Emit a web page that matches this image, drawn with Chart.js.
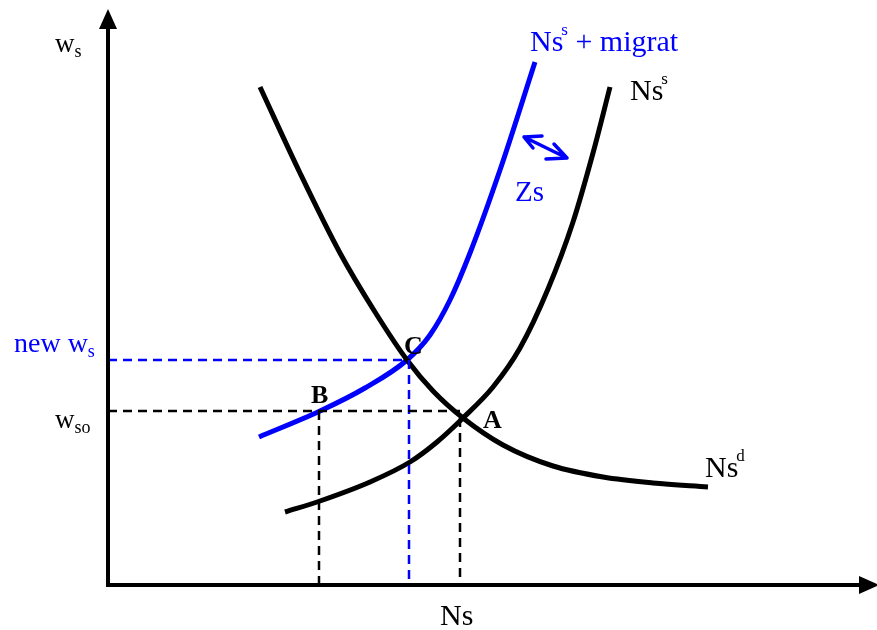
<!DOCTYPE html>
<html>
<head>
<meta charset="utf-8">
<script src="https://cdn.jsdelivr.net/npm/chart.js@4.4.1/dist/chart.umd.min.js"></script>
<style>
  body { margin: 0; background: #fff; }
</style>
</head>
<body>
<canvas id="grafico" width="877" height="630"></canvas>
<script>
// curvas (unidades del diagrama: origen en el cruce de los ejes)
const demandaX = [152, 192, 232, 267, 299, 325, 355, 395, 445, 495, 545, 600];
const demandaY = [498, 412, 332, 273, 225, 194, 167, 140, 119, 108, 102, 98];

const ofertaX = [177, 212, 262, 302, 329, 355, 385, 412, 440, 465, 485, 502];
const ofertaY = [73, 84, 103, 123, 143, 167, 198, 237, 296, 363, 432, 498];

const migratX = [151, 212, 257, 299, 322, 342, 362, 392, 427];
const migratY = [148, 174, 197, 225, 250, 285, 332, 415, 523];

// equilibrios y salario inicial
const puntoA = { x: 352, y: 167 };
const puntoB = { x: 211, y: 174 };
const puntoC = { x: 299, y: 225 };

const xMax = 762;
const yMax = 573;

const toPts = (xs, ys) => xs.map((x, i) => ({ x: x, y: ys[i] }));

const serif = '"Liberation Serif", "Times New Roman", serif';
const azul = '#0000ff';

// textos con sub/superindice
const etiquetas = [
  { x: -53, y: 533, t: 'w', sub: 's', c: '#000', s: 27 },
  { x: 422, y: 534, t: 'Ns', sup: 's', rest: ' + migrat', c: azul, s: 30 },
  { x: 522, y: 485, t: 'Ns', sup: 's', c: '#000', s: 30 },
  { x: 407, y: 384, t: 'Zs', c: azul, s: 29 },
  { x: -94, y: 233, t: 'new w', sub: 's', c: azul, s: 28 },
  { x: -53, y: 157, t: 'w', sub: 'so', c: '#000', s: 27 },
  { x: 296, y: 231, t: 'C', c: '#000', s: 26, bold: true },
  { x: 203, y: 182, t: 'B', c: '#000', s: 26, bold: true },
  { x: 375, y: 157, t: 'A', c: '#000', s: 26, bold: true },
  { x: 597, y: 108, t: 'Ns', sup: 'd', c: '#000', s: 30 },
  { x: 332, y: -40, t: 'Ns', c: '#000', s: 30 }
];

const dibujo = {
  id: 'dibujo',
  afterDatasetsDraw(chart) {
    const ctx = chart.ctx;
    const sx = chart.scales.x, sy = chart.scales.y;
    const X = v => sx.getPixelForValue(v);
    const Y = v => sy.getPixelForValue(v);
    ctx.save();

    // ejes con flechas
    ctx.strokeStyle = '#000';
    ctx.fillStyle = '#000';
    ctx.lineWidth = 4;
    ctx.beginPath();
    ctx.moveTo(X(0), Y(0) + 2);
    ctx.lineTo(X(0), 26);
    ctx.moveTo(X(0) - 2, Y(0));
    ctx.lineTo(862, Y(0));
    ctx.stroke();
    ctx.beginPath();
    ctx.moveTo(X(0), 9);
    ctx.lineTo(X(0) - 9, 29);
    ctx.lineTo(X(0) + 9, 29);
    ctx.closePath();
    ctx.fill();
    ctx.beginPath();
    ctx.moveTo(879, Y(0));
    ctx.lineTo(859, Y(0) - 9);
    ctx.lineTo(859, Y(0) + 9);
    ctx.closePath();
    ctx.fill();

    // flecha doble Zs
    ctx.strokeStyle = azul;
    ctx.lineWidth = 3.5;
    ctx.lineCap = 'round';
    ctx.lineJoin = 'round';
    const a = { x: 524, y: 137 }, b = { x: 567, y: 158 };
    ctx.beginPath();
    ctx.moveTo(a.x, a.y); ctx.lineTo(b.x, b.y);
    ctx.moveTo(a.x + 18, a.y - 1); ctx.lineTo(a.x, a.y); ctx.lineTo(a.x + 9, a.y + 11);
    ctx.moveTo(b.x - 21, b.y + 1); ctx.lineTo(b.x, b.y); ctx.lineTo(b.x - 13, b.y - 14);
    ctx.stroke();

    // textos
    ctx.textBaseline = 'alphabetic';
    etiquetas.forEach(e => {
      let px = X(e.x), py = Y(e.y);
      ctx.fillStyle = e.c;
      ctx.font = (e.bold ? 'bold ' : '') + e.s + 'px ' + serif;
      ctx.fillText(e.t, px, py);
      px += ctx.measureText(e.t).width;
      if (e.sub) {
        ctx.font = Math.round(e.s * 0.65) + 'px ' + serif;
        ctx.fillText(e.sub, px, py + 5);
        px += ctx.measureText(e.sub).width;
      }
      if (e.sup) {
        ctx.font = Math.round(e.s * 0.55) + 'px ' + serif;
        ctx.fillText(e.sup, px - 2, py - 16);
        px += ctx.measureText(e.sup).width - 2;
      }
      if (e.rest) {
        ctx.font = e.s + 'px ' + serif;
        ctx.fillText(e.rest, px, py);
      }
    });
    ctx.restore();
  }
};

const dashed = (pts, color) => ({
  data: pts, borderColor: color, borderWidth: 2.5, borderDash: [9, 6],
  pointRadius: 0, tension: 0, fill: false
});

const curva = (label, xs, ys, color) => ({
  label: label, data: toPts(xs, ys), borderColor: color, borderWidth: 5,
  pointRadius: 0, cubicInterpolationMode: 'monotone', fill: false
});

document.addEventListener('DOMContentLoaded', function () {
  const ctx = document.getElementById('grafico').getContext('2d');

  new Chart(ctx, {
    type: 'line',
    data: {
      datasets: [
        dashed([{ x: 0, y: puntoB.y }, { x: puntoA.x, y: puntoB.y }], '#000'),
        dashed([{ x: puntoB.x, y: puntoB.y }, { x: puntoB.x, y: 0 }], '#000'),
        dashed([{ x: puntoA.x, y: puntoA.y }, { x: puntoA.x, y: 0 }], '#000'),
        dashed([{ x: 0, y: puntoC.y }, { x: puntoC.x, y: puntoC.y }], azul),
        dashed([{ x: puntoC.x + 2, y: puntoC.y }, { x: puntoC.x + 2, y: 0 }], azul),
        curva('Ns d', demandaX, demandaY, '#000'),
        curva('Ns s', ofertaX, ofertaY, '#000'),
        curva('Ns s + migrat', migratX, migratY, azul)
      ]
    },
    options: {
      responsive: false,
      animation: false,
      layout: { padding: { left: 108, right: 7, top: 12, bottom: 45 } },
      plugins: { legend: { display: false }, tooltip: { enabled: false } },
      scales: {
        x: { type: 'linear', min: 0, max: xMax, display: false },
        y: { type: 'linear', min: 0, max: yMax, display: false }
      }
    },
    plugins: [dibujo]
  });
});
</script>
</body>
</html>
